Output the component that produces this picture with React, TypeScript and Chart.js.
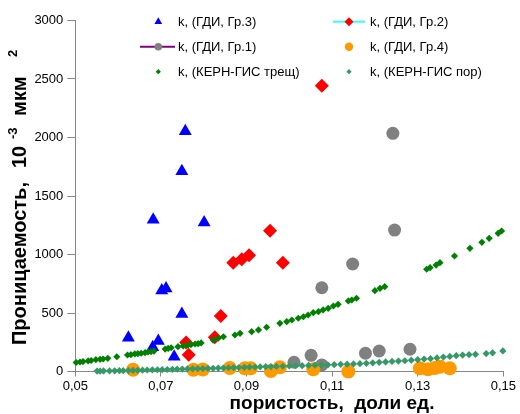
import { useEffect, useRef } from 'react';
import { Chart, registerables } from 'chart.js';

Chart.register(...registerables);

type Pt = [number, number];

// Axis ticks
const xTicks = [0.05, 0.07, 0.09, 0.11, 0.13, 0.15];
const xTickLabels = ['0,05', '0,07', '0,09', '0,11', '0,13', '0,15'];
const yTicks = [0, 500, 1000, 1500, 2000, 2500, 3000];
const yTickLabels = ['0', '500', '1000', '1500', '2000', '2500', '3000'];

const seriesNames = [
  'k, (ГДИ, Гр.3)',
  'k, (ГДИ, Гр.2)',
  'k, (ГДИ, Гр.1)',
  'k, (ГДИ, Гр.4)',
  'k, (КЕРН-ГИС трещ)',
  'k, (КЕРН-ГИС пор)',
];

// Well test permeability, group 3
const gr3: Pt[] = [
  [0.0757, 2053], [0.0749, 1711], [0.0682, 1297], [0.0801, 1274], [0.0702, 692],
  [0.0712, 709], [0.0749, 492], [0.0624, 289], [0.0694, 261], [0.0681, 207], [0.0731, 126],
];

// Well test permeability, group 2
const gr2: Pt[] = [
  [0.1076, 2443], [0.0955, 1203], [0.0869, 930], [0.0889, 959], [0.0906, 993],
  [0.0985, 930], [0.0840, 474], [0.0826, 292], [0.0759, 248], [0.0765, 144],
];

// Well test permeability, group 1
const gr1: Pt[] = [
  [0.1242, 2036], [0.1246, 1209], [0.1148, 919], [0.1076, 716], [0.1282, 190],
  [0.1210, 175], [0.1178, 156], [0.1051, 138], [0.1011, 79], [0.1076, 56],
];

// Well test permeability, group 4
const gr4: Pt[] = [
  [0.0635, 15], [0.0776, 15], [0.0798, 17], [0.0861, 30], [0.0896, 27],
  [0.0910, 27], [0.0957, 4], [0.0978, 36], [0.1056, 19], [0.1138, 0],
  [0.1305, 27], [0.1324, 19], [0.1340, 30], [0.1352, 41], [0.1375, 27],
];

// Core-log permeability, fractured
const coreFrac: Pt[] = [
  [0.0502, 77], [0.0511, 81], [0.0518, 85], [0.0530, 90], [0.0537, 94], [0.0548, 101],
  [0.0558, 104], [0.0565, 107], [0.0576, 113], [0.0597, 126], [0.0622, 141], [0.0630, 144],
  [0.0639, 150], [0.0646, 152], [0.0654, 156], [0.0663, 161], [0.0670, 167], [0.0677, 169],
  [0.0684, 175], [0.0710, 192], [0.0717, 198], [0.0724, 203], [0.0740, 212], [0.0752, 218],
  [0.0763, 226], [0.0770, 229], [0.0780, 235], [0.0787, 238], [0.0794, 244], [0.0822, 269],
  [0.0834, 284], [0.0846, 297], [0.0873, 312], [0.0885, 326], [0.0912, 340], [0.0928, 355],
  [0.0947, 378], [0.0978, 412], [0.0994, 426], [0.1006, 440], [0.1021, 455], [0.1033, 468],
  [0.1044, 483], [0.1056, 503], [0.1068, 511], [0.1079, 526], [0.1091, 540], [0.1103, 560],
  [0.1114, 574], [0.1138, 603], [0.1146, 611], [0.1157, 626], [0.1200, 691], [0.1212, 711],
  [0.1223, 725], [0.1321, 874], [0.1329, 887], [0.1343, 910], [0.1352, 930], [0.1386, 987],
  [0.1422, 1053], [0.1450, 1104], [0.1467, 1138], [0.1488, 1181], [0.1496, 1201],
];

// Core-log permeability, porous
const corePor: Pt[] = [
  [0.0551, 4], [0.0558, 4], [0.0566, 5], [0.0580, 5], [0.0592, 6], [0.0603, 7], [0.0612, 7],
  [0.0624, 8], [0.0635, 9], [0.0646, 10], [0.0657, 11], [0.0668, 13], [0.0680, 14], [0.0692, 15],
  [0.0703, 16], [0.0715, 17], [0.0727, 19], [0.0738, 20], [0.0750, 21], [0.0762, 22], [0.0774, 23],
  [0.0786, 24], [0.0798, 25], [0.0810, 26], [0.0822, 27], [0.0834, 29], [0.0846, 30], [0.0858, 32],
  [0.0870, 33], [0.0882, 34], [0.0895, 36], [0.0907, 37], [0.0920, 38], [0.0932, 40], [0.0945, 41],
  [0.0957, 42], [0.0970, 43], [0.0985, 45], [0.1000, 47], [0.1015, 49], [0.1030, 50], [0.1045, 52],
  [0.1060, 54], [0.1075, 55], [0.1090, 57], [0.1105, 58], [0.1120, 61], [0.1135, 63], [0.1150, 65],
  [0.1165, 67], [0.1180, 70], [0.1195, 74], [0.1210, 78], [0.1225, 82], [0.1240, 86], [0.1255, 89],
  [0.1270, 92], [0.1285, 97], [0.1300, 101], [0.1315, 106], [0.1330, 110], [0.1345, 116],
  [0.1360, 123], [0.1375, 129], [0.1390, 135], [0.1405, 140], [0.1420, 144], [0.1435, 147],
  [0.1460, 153], [0.1475, 160], [0.1499, 176],
];

const FONT = '"Liberation Sans", Arial, sans-serif';
const AXIS_COLOR = '#868686';

const toXY = (pts: Pt[]) => pts.map(([x, y]) => ({ x, y }));

type Marker = 'triangle' | 'diamond' | 'circle';

function drawMarker(ctx: CanvasRenderingContext2D, kind: Marker, x: number, y: number, r: number, color: string) {
  ctx.fillStyle = color;
  ctx.beginPath();
  if (kind === 'triangle') {
    const s = Math.sin(Math.PI / 3) * r;
    ctx.moveTo(x, y - r);
    ctx.lineTo(x + s, y + r / 2);
    ctx.lineTo(x - s, y + r / 2);
  } else if (kind === 'diamond') {
    ctx.moveTo(x, y - r);
    ctx.lineTo(x + r, y);
    ctx.lineTo(x, y + r);
    ctx.lineTo(x - r, y);
  } else {
    ctx.arc(x, y, r, 0, Math.PI * 2);
  }
  ctx.closePath();
  ctx.fill();
}

type LegendItem = {
  col: number;
  row: number;
  marker: Marker;
  r: number;
  color: string;
  line?: string;
  lineFrom?: number;
  lineTo?: number;
};

const legendItems: LegendItem[] = [
  { col: 0, row: 0, marker: 'triangle', r: 4.5, color: '#0000FF' },
  { col: 1, row: 0, marker: 'diamond', r: 4.5, color: '#FF0000', line: '#33FFFF', lineFrom: 333, lineTo: 365 },
  { col: 0, row: 1, marker: 'circle', r: 3.8, color: '#808080', line: '#800080', lineFrom: 140, lineTo: 175 },
  { col: 1, row: 1, marker: 'circle', r: 4.2, color: '#FF9900' },
  { col: 0, row: 2, marker: 'diamond', r: 2.6, color: '#008000' },
  { col: 1, row: 2, marker: 'diamond', r: 2.6, color: '#339966' },
];
const legendColMarkerX = [158.3, 349];
const legendColTextX = [178, 370];
const legendRowY = [21.7, 46.7, 71.7];

// Y-axis title pieces: text, font, baseline rise, start position along the axis (page y)
const yTitleParts: { t: string; f: string; rise: number; start: number }[] = [
  { t: 'Проницаемость,', f: `bold 20px ${FONT}`, rise: 0, start: 345 },
  { t: '10', f: `bold 20px ${FONT}`, rise: 0, start: 168 },
  { t: '-3', f: `bold 13px ${FONT}`, rise: 7, start: 139 },
  { t: 'мкм', f: `bold 20px ${FONT}`, rise: 0, start: 116 },
  { t: '2', f: `bold 13px ${FONT}`, rise: 7, start: 57 },
];

const decorations = {
  id: 'decorations',
  afterDraw(chart: Chart) {
    const ctx = chart.ctx;
    ctx.save();

    // legend
    ctx.font = `13px ${FONT}`;
    ctx.textBaseline = 'middle';
    ctx.textAlign = 'left';
    legendItems.forEach((it, i) => {
      const y = legendRowY[it.row];
      const mx = legendColMarkerX[it.col];
      if (it.line) {
        ctx.strokeStyle = it.line;
        ctx.lineWidth = 2;
        ctx.beginPath();
        ctx.moveTo(it.lineFrom!, y);
        ctx.lineTo(it.lineTo!, y);
        ctx.stroke();
      }
      drawMarker(ctx, it.marker, mx, y, it.r, it.color);
      ctx.fillStyle = '#000';
      ctx.fillText(seriesNames[i], legendColTextX[it.col], y + 0.5);
    });

    // y axis title with superscripts
    ctx.translate(20, 0);
    ctx.rotate(-Math.PI / 2);
    ctx.textBaseline = 'middle';
    ctx.textAlign = 'left';
    ctx.fillStyle = '#000';
    yTitleParts.forEach((p) => {
      ctx.font = p.f;
      ctx.fillText(p.t, -p.start, -p.rise);
    });
    ctx.setTransform(1, 0, 0, 1, 0, 0);

    // x axis title
    ctx.font = `bold 19px ${FONT}`;
    ctx.textAlign = 'center';
    ctx.textBaseline = 'middle';
    ctx.fillText('пористость,  доли ед.', 332, 404);

    ctx.restore();
  },
};

export default function App() {
  const ref = useRef<HTMLCanvasElement | null>(null);

  useEffect(() => {
    if (!ref.current) return;
    const base = { showLine: false, borderWidth: 0, clip: false as const };
    const chart = new Chart(ref.current, {
      type: 'scatter',
      data: {
        datasets: [
          { ...base, label: seriesNames[0], data: toXY(gr3), pointStyle: 'triangle', pointRadius: 7.5, backgroundColor: '#0000FF', borderColor: '#0000FF', order: 6 },
          { ...base, label: seriesNames[1], data: toXY(gr2), pointStyle: 'rectRot', pointRadius: 7, backgroundColor: '#FF0000', borderColor: '#FF0000', order: 5 },
          { ...base, label: seriesNames[2], data: toXY(gr1), pointStyle: 'circle', pointRadius: 6.5, backgroundColor: '#808080', borderColor: '#808080', order: 4 },
          { ...base, label: seriesNames[3], data: toXY(gr4), pointStyle: 'circle', pointRadius: 7, backgroundColor: '#FF9900', borderColor: '#FF9900', order: 3 },
          { ...base, label: seriesNames[4], data: toXY(coreFrac), pointStyle: 'rectRot', pointRadius: 3.6, backgroundColor: '#008000', borderColor: '#008000', order: 2 },
          { ...base, label: seriesNames[5], data: toXY(corePor), pointStyle: 'rectRot', pointRadius: 3.6, backgroundColor: '#339966', borderColor: '#339966', order: 1 },
        ],
      },
      options: {
        responsive: false,
        animation: false,
        events: [],
        layout: { padding: { top: 20.5, right: 16.7, left: 0, bottom: 0 } },
        plugins: { legend: { display: false }, tooltip: { enabled: false }, title: { display: false } },
        scales: {
          x: {
            type: 'linear',
            min: 0.05,
            max: 0.15,
            afterBuildTicks: (s: any) => {
              s.ticks = xTicks.map((v) => ({ value: v }));
            },
            afterFit: (s: any) => {
              s.height = 42.5;
            },
            ticks: {
              callback: (_v: any, i: number) => xTickLabels[i],
              font: { family: FONT, size: 13 },
              color: '#000',
              padding: 2,
              maxRotation: 0,
              autoSkip: false,
            },
            grid: { drawOnChartArea: false, drawTicks: true, tickLength: 5, color: AXIS_COLOR },
            border: { display: true, color: AXIS_COLOR, width: 1 },
          },
          y: {
            type: 'linear',
            min: 0,
            max: 3000,
            afterBuildTicks: (s: any) => {
              s.ticks = yTicks.map((v) => ({ value: v }));
            },
            afterFit: (s: any) => {
              s.width = 75.3;
            },
            ticks: {
              callback: (_v: any, i: number) => yTickLabels[i],
              font: { family: FONT, size: 13 },
              color: '#000',
              padding: 4,
              autoSkip: false,
            },
            grid: { drawOnChartArea: false, drawTicks: true, tickLength: 8, color: AXIS_COLOR },
            border: { display: true, color: AXIS_COLOR, width: 1 },
          },
        },
      },
      plugins: [decorations],
    });
    return () => chart.destroy();
  }, []);

  return (
    <div style={{ position: 'fixed', left: 0, top: 0, width: 520, height: 414, background: '#fff' }}>
      <canvas ref={ref} width={520} height={414} style={{ display: 'block' }} />
    </div>
  );
}
